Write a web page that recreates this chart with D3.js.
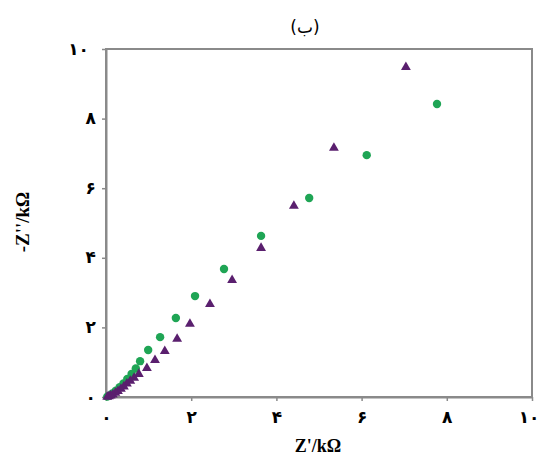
<!DOCTYPE html>
<html><head><meta charset="utf-8">
<script src="https://cdn.jsdelivr.net/npm/d3@7"></script>
<style>body{margin:0;background:#fff}</style>
</head><body>
<svg id="c" width="541" height="456"></svg>
<script>
const title = "(ب)";
const xTitle = "Z'/kΩ";
const yTitle = "-Z''/kΩ";
const tickValues = [0,2,4,6,8,10];
const tickLabels = ["۰","۲","۴","۶","۸","۱۰"];
const circleX = [7.77,6.12,4.77,3.64,2.77,2.09,1.64,1.27,0.99,0.80,0.70,0.60,0.50,0.41,0.32,0.23,0.15,0.08,0.03];
const circleY = [8.42,6.95,5.72,4.63,3.68,2.90,2.27,1.72,1.35,1.03,0.82,0.66,0.52,0.39,0.28,0.18,0.10,0.04,0.01];
const triX = [7.04,5.35,4.41,3.64,2.96,2.44,1.97,1.67,1.38,1.15,0.96,0.77,0.66,0.57,0.49,0.42,0.35,0.28,0.22,0.16,0.11,0.07,0.03];
const triY = [9.48,7.16,5.49,4.28,3.36,2.67,2.10,1.67,1.32,1.06,0.83,0.66,0.55,0.46,0.38,0.30,0.23,0.17,0.12,0.07,0.04,0.02,0.005];

const svg = d3.select("#c");
const L=106, R=532, T=49, B=397;
const x = d3.scaleLinear().domain([0,10]).range([L,R]);
const y = d3.scaleLinear().domain([0,10]).range([B,T]);
const axisColor = "#8a8a8a";

svg.append("rect").attr("x",L).attr("y",T).attr("width",R-L).attr("height",B-T)
  .attr("fill","none").attr("stroke",axisColor).attr("stroke-width",2);

const fmt = (d)=>tickLabels[tickValues.indexOf(d)];
const xAxis = svg.append("g").attr("transform",`translate(0,${B})`)
  .call(d3.axisBottom(x).tickValues(tickValues).tickFormat(fmt).tickSize(4).tickSizeOuter(0));
const yAxis = svg.append("g").attr("transform",`translate(${L},0)`)
  .call(d3.axisLeft(y).tickValues(tickValues).tickFormat(fmt).tickSize(4).tickSizeOuter(0));
[xAxis,yAxis].forEach(a=>{
  a.select(".domain").attr("stroke",axisColor).attr("stroke-width",2);
  a.selectAll(".tick line").attr("stroke",axisColor).attr("stroke-width",1.5);
  a.selectAll("text").attr("fill","#000").style("font-family","DejaVu Sans").style("font-weight","bold").style("font-size","17px");
});
xAxis.selectAll("text").attr("dy","0").attr("y",26)
  .attr("text-anchor",d=>d===10?"end":"middle").attr("x",d=>d===10?7:0);
yAxis.selectAll("text").attr("x",d=>d===10?-17:-10).attr("dy","0.3em");

const circles = circleX.map((v,i)=>({x:v,y:circleY[i]}));
const tris = triX.map((v,i)=>({x:v,y:triY[i]}));
svg.append("g").selectAll("circle").data(circles).enter().append("circle")
  .attr("cx",d=>x(d.x)).attr("cy",d=>y(d.y)).attr("r",4.2).attr("fill","#1fa555");
const tri = d3.symbol().type(d3.symbolTriangle).size(42);
svg.append("g").selectAll("path").data(tris).enter().append("path")
  .attr("d",tri).attr("transform",d=>`translate(${x(d.x)},${y(d.y)})`).attr("fill","#5a1f6e");

svg.append("text").attr("x",305).attr("y",33).attr("text-anchor","middle")
  .style("font-family","DejaVu Sans").style("font-size","17px").text(title);
svg.append("text").attr("x",318).attr("y",452).attr("text-anchor","middle")
  .style("font-family","Liberation Serif").style("font-weight","bold").style("font-size","18px").text(xTitle);
svg.append("text").attr("transform","translate(29,222) rotate(-90)").attr("text-anchor","middle")
  .style("font-family","Liberation Serif").style("font-weight","bold").style("font-size","19px").text(yTitle);
</script>
</body></html>
